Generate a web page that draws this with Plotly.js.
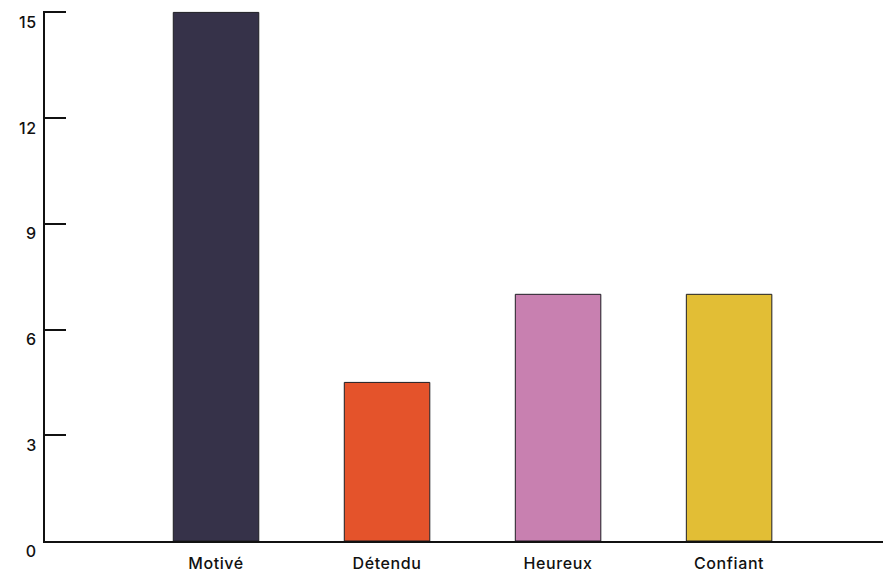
<!DOCTYPE html>
<html>
<head>
<meta charset="utf-8">
<script src="https://cdn.plot.ly/plotly-3.0.1.min.js"></script>
<style>
  html, body { margin: 0; padding: 0; background: #ffffff; }
  #chart { width: 883px; height: 573px; }
  /* slightly open tracking for the axis labels */
  #chart .xtick text, #chart .ytick text { letter-spacing: 0.6px; }
</style>
</head>
<body>
<div id="chart"></div>
<script>
// Mood survey: count of answers per mood
const categories = ['Motivé', 'Détendu', 'Heureux', 'Confiant'];
const counts = [15, 4.5, 7, 7];
const barColors = ['#363249', '#E4532B', '#C880B0', '#E2BE35'];
const yTicks = [0, 3, 6, 9, 12, 15];
const yTickLabels = ['0', '3', '6', '9', '12', '15'];

const FONT = 'Inter, "Noto Sans", "DejaVu Sans", sans-serif';

const trace = {
  type: 'bar',
  x: categories,
  y: counts,
  marker: {
    color: barColors,
    line: { color: '#1e1e24', width: 1 }
  },
  hoverinfo: 'x+y'
};

const layout = {
  width: 883,
  height: 573,
  // a little headroom above 15 so the top inside tick is kept
  margin: { l: 45, r: 0, t: 11, b: 32, pad: 0 },
  paper_bgcolor: '#ffffff',
  plot_bgcolor: '#ffffff',
  showlegend: false,
  bargap: 0.5,
  font: { family: FONT, size: 16, color: '#111111', weight: 500 },
  xaxis: {
    type: 'category',
    range: [-1, 3.9],
    showline: true,
    linecolor: '#111111',
    linewidth: 2,
    showgrid: false,
    zeroline: false,
    ticks: '',
    ticklabelstandoff: 7,
    tickfont: { family: FONT, size: 16, color: '#111111', weight: 500 },
    fixedrange: true
  },
  yaxis: {
    range: [0, 15.04],
    tickmode: 'array',
    tickvals: yTicks,
    ticktext: yTickLabels,
    showline: true,
    linecolor: '#111111',
    linewidth: 2,
    showgrid: false,
    zeroline: false,
    ticks: 'inside',
    ticklen: 21,
    tickwidth: 2,
    tickcolor: '#111111',
    ticklabelshift: 10,
    ticklabelstandoff: 3,
    tickfont: { family: FONT, size: 16, color: '#111111', weight: 500 },
    fixedrange: true
  }
};

Plotly.newPlot('chart', [trace], layout, { displayModeBar: false, staticPlot: true });
</script>
</body>
</html>
